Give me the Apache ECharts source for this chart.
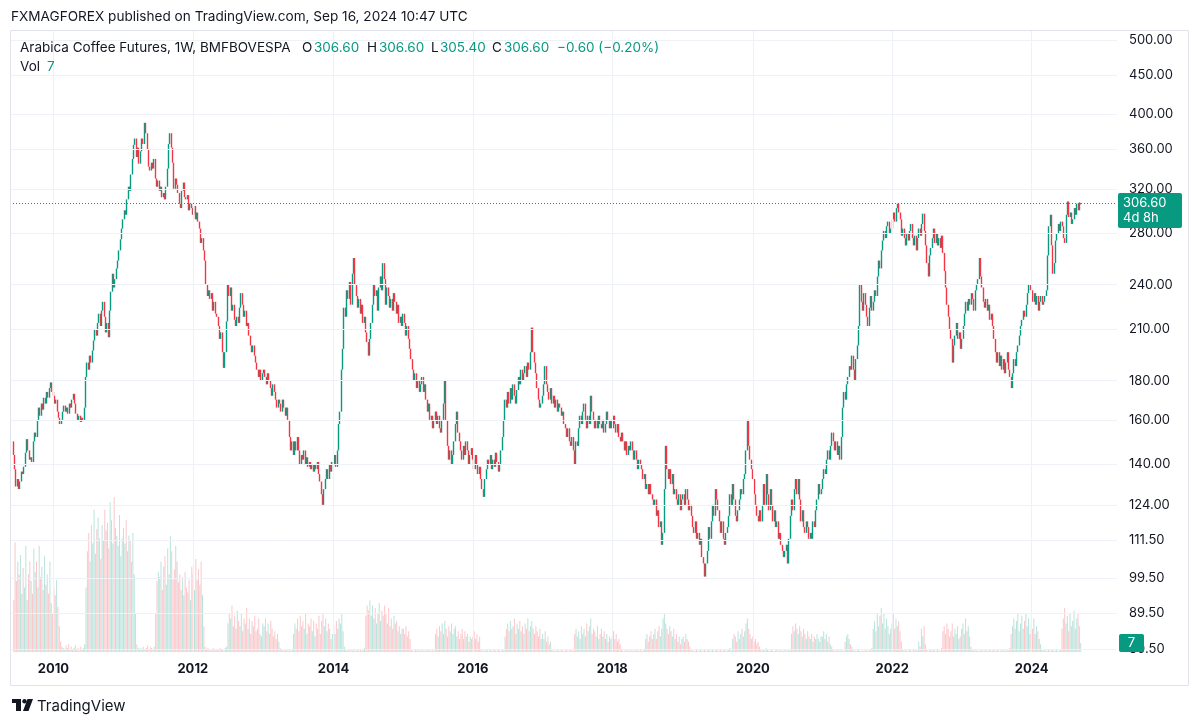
<!DOCTYPE html>
<html>
<head>
<meta charset="utf-8">
<script src="https://cdn.jsdelivr.net/npm/echarts@6/dist/echarts.min.js"></script>
<style>
html,body{margin:0;padding:0;background:#ffffff;}
#chart{width:1200px;height:725px;}
</style>
</head>
<body>
<div id="chart"></div>
<script>
// ---------- DATA (weekly closes and volumes) ----------
const close2009 = [144,138,131,134, 130,133,137,136, 139,145,151,146,142, 143,141,150,154, 152,160,166,162, 168,165,171,168,174, 171,176,179,174];
const close2010 = [172,168,170,164, 161,158,160,164, 167,164,166,163,168, 166,170,173,168, 163,160,162,159,161, 160,166,182,190, 186,194,190,197, 203,210,206,214,220, 212,222,228,218, 208,214,205,222, 235,248,238,244,252, 258,266,275,284];
const close2011 = [292,300,296,310,322, 318,334,350,365, 372,352,362,345, 358,372,366,390, 378,360,342,338,346, 340,350,330,322, 328,318,322,312, 316,310,322,340,366, 378,362,346,320, 330,324,316,306,302, 318,326,312,310, 314,300,306,302];
const close2012 = [296,304,292,298,290, 284,272,276,266, 258,240,232,236, 230,234,222,228,220, 218,212,204,208, 196,187,196,215, 240,232,238,222,226, 216,212,218,214, 224,234,226,218, 222,212,214,206,200, 196,200,194,190, 186,182,186,180,184];
const close2013 = [186,182,178,184, 180,176,172,178, 174,170,166,170, 168,164,170,166,162, 166,160,152,146, 150,144,150,146, 152,146,140,144,142, 146,140,143,139, 141,138,140,137,140, 138,141,136,133, 128,124,130,134, 138,134,140,137,141];
const close2014 = [140,144,139,146, 158,164,186,198, 224,218,236,230,242, 226,248,260,240, 232,224,230,220, 226,214,218,208,202, 194,204,214,226, 240,232,236,222, 238,246,236,256,244, 226,238,232,224, 230,222,234,228, 220,226,214,218,212];
const close2015 = [220,214,206,212, 204,198,192,186, 180,184,176,180,174, 178,182,174,178, 170,164,168,160, 162,156,160,164,158, 162,156,154,160, 168,180,160,148,142, 146,140,144,150, 158,164,154,150, 146,142,148,144,150, 146,140,144,147];
const close2016 = [142,138,144,140, 136,139,134,130,127, 134,138,142,140, 144,138,142,139, 145,141,137,140,146, 152,160,170,166, 174,168,176,170, 178,172,168,175,182, 178,186,180,184, 188,182,190,186,196, 211,196,190,184, 176,170,166,168];
const close2017 = [172,178,188,178,174, 170,176,168,172, 166,170,164,168, 166,162,164,158, 156,152,156,150,148, 152,146,140,150, 148,156,162,158,164, 168,160,156,162, 158,172,164,160, 156,160,156,162,158, 156,160,154,158, 164,160,156,160];
const close2018 = [156,162,158,154,158, 152,150,154,150, 146,150,144,148, 146,150,146,142,146, 142,138,142,140, 138,134,136,130, 132,128,132,128,126, 124,126,120,122, 116,118,110,114, 130,148,138,134,138, 132,136,128,130, 126,124,128,122,126];
const close2019 = [128,124,130,126, 122,124,120,116, 114,118,112,114, 110,112,106,104,100, 104,108,116,112, 118,124,120,130, 126,122,118,114,118, 112,110,114,116, 120,128,124,132,126, 120,118,122,126, 130,128,134,136, 146,160,148,142,138];
const close2020 = [134,128,124,120, 118,122,118,124, 132,124,136,128,122, 130,124,118,122, 116,118,112,114, 110,108,106,108,110, 104,112,120,126, 122,130,134,128,134, 126,118,122,116, 114,118,116,112, 114,112,118,116,122, 126,132,128,130];
const close2021 = [134,138,136,142, 146,142,148,154, 150,146,150,144,148, 142,152,166,174, 170,178,182,188,186, 194,186,180,192, 200,212,240,228, 222,234,226,218,212, 224,232,222,228, 236,232,246,258, 252,266,274,282,276, 286,290,280,284];
const close2022 = [292,298,290,302,306, 298,292,278,284, 276,270,280,274, 282,288,276,270, 278,266,276,284,278, 288,297,282,270, 256,246,262,268, 276,284,272,280,270, 276,268,278,264, 250,238,226,218,210, 204,190,200,206, 214,204,208,198];
const close2023 = [204,212,220,228,222, 230,226,234,230, 222,236,240,244, 260,246,238,228, 224,230,222,226,216, 220,212,204,196, 190,196,188,194,186, 192,184,190,196, 186,182,176,184, 192,188,196,200,206, 212,216,222,218, 226,234,240,236];
const close2024 = [236,228,234,226,232, 222,228,232,226, 228,232,236,262, 286,296,270,248,256, 274,280,288,282, 290,286,276,272, 296,308,294,298,288, 292,302,296,306, 300,307.2,306.6];

const vol2009 = [40,85,55,70, 60,75,45,65, 50,82,40,60,70, 55,45,80,62, 70,50,82,58, 66,48,74,52,60, 45,70,38,30];
const vol2010 = [50,44,56,35, 20,8,4,3, 2,5,3,6,2, 4,2,3,5, 2,3,1,4,2, 3,6,50,78, 92,70,98,84, 110,76,95,104,88, 72,98,86,110, 94,100,80,116, 102,84,120,96,90, 82,106,74,88];
const vol2011 = [96,84,102,78,90, 86,70,92,60, 30,6,3,2, 3,2,4,2, 3,5,2,4,3, 2,4,30,55, 62,58,70,48, 66,74,52,80,60, 90,78,56,64, 82,70,54,60,48, 58,44,62,50, 46,56,40,66];
const vol2012 = [60,48,72,56,64, 52,70,44,20, 4,2,3,2, 1,2,3,1,2, 2,1,3,2, 2,1,3,4, 22,30,26,36,20, 28,18,32,24, 20,30,16,26, 22,34,18,26,14, 24,20,28,16, 18,26,14,12,22];
const vol2013 = [20,26,16,22, 14,24,18,12, 16,10,14,8, 3,2,1,2,1, 2,1,2,1, 2,14,22,18, 26,16,28,20,24, 18,30,14,22, 20,26,16,24,12, 22,18,28,14, 24,30,20,26, 16,22,18,10,14];
const vol2014 = [20,14,24,18, 26,22,30,16, 4,2,1,2,1, 2,1,2,1, 1,2,1,2, 1,2,3,28,36, 32,40,28,36, 26,34,22,30, 38,24,32,28,36, 30,22,34,20, 26,18,28,22, 24,16,20,14,18];
const vol2015 = [18,14,20,12, 16,10,2,1, 1,2,1,2,1, 1,2,1,1, 2,1,2,1, 1,2,1,14,18, 12,20,16,22, 14,24,18,12,20, 16,22,14,18, 20,12,16,10, 14,18,10,16,12, 14,8,12,10];
const vol2016 = [12,16,10,14, 8,12,2,1,1, 1,2,1,1, 2,1,1,2, 1,1,2,1,1, 2,1,12,18, 22,16,24,18, 20,26,14,22,18, 24,16,20,14, 22,18,26,16,20, 24,18,14,20, 16,12,18,10];
const vol2017 = [14,10,16,8,12, 6,8,2,1, 1,1,2,1, 1,2,1,1, 1,2,1,1,2, 1,1,14,18, 12,16,10,20,14, 18,12,22,16, 20,26,14,18, 16,12,20,10,14, 18,12,16,10, 14,8,12,10];
const vol2018 = [12,16,10,14,8, 10,6,2,1, 1,1,2,1, 1,2,1,1,1, 2,1,1,2, 1,1,2,10, 14,8,12,16,10, 14,18,10,16, 20,12,18,26, 30,22,18,14,20, 16,12,18,10, 14,8,12,6,10];
const vol2019 = [12,8,14,10, 8,4,2,1, 1,1,2,1, 1,2,1,1,2, 1,1,2,1, 1,2,1,1, 2,1,1,2,1, 1,2,1,1, 2,3,1,10,14, 12,8,16,10, 14,18,12,16, 22,26,18,14,10];
const vol2020 = [12,8,10,6, 8,4,2,1, 2,1,3,2,1, 1,2,1,1, 1,2,1,1, 2,1,1,2,1, 1,2,1,14, 20,16,22,18,14, 20,16,12,18, 14,10,16,12, 10,14,8,12,10, 14,10,8,12];
const vol2021 = [12,16,10,14, 8,12,6,4, 2,1,1,2,1, 1,2,1,1, 8,12,14,10,6, 4,2,1,1, 1,2,1,1, 1,1,2,1,1, 2,1,3,18, 24,16,30,20, 28,34,22,30,18, 26,20,14,18];
const vol2022 = [22,30,18,26,20, 24,16,8,2, 1,2,1,1, 2,1,1,2, 1,2,1,8,4, 18,12,20,6, 2,1,1,2, 1,2,1,1,2, 1,1,3,16, 20,14,22,18,12, 16,22,12,18, 14,20,10,12];
const vol2023 = [18,22,14,26,16, 20,12,4,2, 1,2,1,1, 1,1,2,1, 1,2,1,1,2, 1,1,2,1, 1,2,1,1,1, 2,1,1,2, 1,3,14,20, 26,18,24,30,16, 22,28,18,24, 30,20,26,14];
const vol2024 = [22,18,26,14,20, 16,10,6,2, 1,2,1,1, 2,1,1,2,1, 1,2,1,1, 2,18,26,34, 22,28,16,30,20, 24,32,18,26, 30,20,7];

const dataYears = [2009,2010,2011,2012,2013,2014,2015,2016,2017,2018,2019,2020,2021,2022,2023,2024];
const closesByYear = [close2009,close2010,close2011,close2012,close2013,close2014,close2015,close2016,close2017,close2018,close2019,close2020,close2021,close2022,close2023,close2024];
const volsByYear = [vol2009,vol2010,vol2011,vol2012,vol2013,vol2014,vol2015,vol2016,vol2017,vol2018,vol2019,vol2020,vol2021,vol2022,vol2023,vol2024];
const firstOpen = 150;
const lastBar = { o: 306.60, h: 306.60, l: 305.40, c: 306.60, vol: 7 };
const prevClose = 307.20;

const priceTicks = [500, 450, 400, 360, 320, 280, 240, 210, 180, 160, 140, 124, 111.5, 99.5, 89.5, 80.5];
const yearTicks = [2010, 2012, 2014, 2016, 2018, 2020, 2022, 2024];

// ---------- BUILD ----------
const FONT = 'Inter, "Noto Sans", Roboto, sans-serif';
const UP = '#089981', DOWN = '#f23645', TXT = '#131722', GRID = '#eef1f5';
const VOL_UP = 'rgba(8,153,129,0.28)', VOL_DOWN = 'rgba(242,54,69,0.28)';
const DAY = 86400000;

function weekStart(y) {
  if (y === 2009) return Date.UTC(2009, 5, 8);
  const dow = new Date(Date.UTC(y, 0, 1)).getUTCDay();
  return Date.UTC(y, 0, 1 + (8 - dow) % 7);
}

const candles = [], volBars = [];
let prev = firstOpen;
dataYears.forEach((y, yi) => {
  const t0 = weekStart(y);
  closesByYear[yi].forEach((c, i) => {
    const t = t0 + i * 7 * DAY;
    const o = prev;
    candles.push([t, o, c, Math.min(o, c), Math.max(o, c)]);
    volBars.push({ value: [t, volsByYear[yi][i]], itemStyle: { color: c >= o ? VOL_UP : VOL_DOWN } });
    prev = c;
  });
});
// last (current) bar from the legend values
const li = candles.length - 1;
candles[li] = [candles[li][0], lastBar.o, lastBar.c, lastBar.l, lastBar.h];
volBars[li] = { value: [candles[li][0], lastBar.vol], itemStyle: { color: VOL_UP } };

const xMin = Date.UTC(2009, 4, 22), xMax = Date.UTC(2025, 2, 22);

const gridMarks = priceTicks.map(v => ({
  yAxis: v,
  label: { show: true, position: 'end', formatter: v.toFixed(2), distance: 12, color: TXT, fontSize: 13, fontFamily: FONT }
})).concat(yearTicks.map(y => ({
  xAxis: weekStart(y),
  label: { show: true, position: 'start', formatter: String(y), distance: 11, color: TXT, fontSize: 13, fontWeight: 'bold', fontFamily: FONT }
})));

const chart = echarts.init(document.getElementById('chart'), null, { renderer: 'canvas' });
chart.setOption({
  animation: false,
  backgroundColor: '#ffffff',
  grid: [
    { left: 10, right: 83, top: 30, bottom: 73 },
    { left: 10, right: 83, top: 484, bottom: 73 }
  ],
  xAxis: [
    { type: 'time', gridIndex: 0, min: xMin, max: xMax, show: false },
    { type: 'time', gridIndex: 1, min: xMin, max: xMax, show: false }
  ],
  yAxis: [
    { type: 'log', logBase: 10, gridIndex: 0, min: 79.75, max: 515.2, show: false },
    { type: 'value', gridIndex: 1, min: 0, max: 130, show: false }
  ],
  series: [
    {
      name: 'grid', type: 'line', xAxisIndex: 0, yAxisIndex: 0, data: [], z: 0, silent: true,
      markLine: {
        silent: true, symbol: ['none', 'none'], animation: false,
        lineStyle: { color: GRID, width: 1, type: 'solid' },
        emphasis: { disabled: true },
        data: gridMarks
      }
    },
    {
      name: 'Volume', type: 'bar', xAxisIndex: 1, yAxisIndex: 1, data: volBars,
      barWidth: 1, z: 1, silent: true, large: false
    },
    {
      name: 'Arabica Coffee Futures', type: 'candlestick', xAxisIndex: 0, yAxisIndex: 0,
      data: candles, encode: { x: 0, y: [1, 2, 3, 4] }, large: false,
      barWidth: 1.2, z: 3,
      itemStyle: { color: UP, color0: DOWN, borderColor: UP, borderColor0: DOWN, borderWidth: 1.4 },
      markLine: {
        silent: true, symbol: ['none', 'none'], animation: false,
        lineStyle: { color: UP, width: 1, type: [1, 2] },
        label: { show: false },
        data: [{ yAxis: lastBar.c }]
      }
    }
  ]
});

// ---------- overlays (text, boxes) ----------
const yLast = chart.convertToPixel({ yAxisIndex: 0 }, lastBar.c);
const yVol = chart.convertToPixel({ yAxisIndex: 1 }, lastBar.vol);
const chg = lastBar.c - prevClose;
const sgn = chg < 0 ? '\u2212' : '+';
const chgTxt = sgn + Math.abs(chg).toFixed(2) + ' (' + sgn + Math.abs(chg / prevClose * 100).toFixed(2) + '%)';

function txt(x, y, s, opt) {
  return { type: 'text', x: x, y: y, silent: true, z: 100,
    style: Object.assign({ text: s, fill: TXT, font: '13px ' + FONT, textVerticalAlign: 'middle', textAlign: 'left' }, opt || {}) };
}
const F2 = '13.5px ' + FONT;

chart.setOption({
  graphic: [
    { type: 'rect', silent: true, z: 90, shape: { x: 10.5, y: 30.5, width: 1178, height: 655 }, style: { fill: 'none', stroke: '#e0e3eb', lineWidth: 1 } },
    txt(11, 17, 'FXMAGFOREX published on TradingView.com, Sep 16, 2024 10:47 UTC', { font: '13.6px ' + FONT }),
    txt(20, 48, 'Arabica Coffee Futures, 1W, BMFBOVESPA', { font: F2 }),
    txt(302, 48, 'O', { font: F2 }),
    txt(314, 48, lastBar.o.toFixed(2), { font: F2, fill: UP }),
    txt(367, 48, 'H', { font: F2 }),
    txt(379, 48, lastBar.h.toFixed(2), { font: F2, fill: UP }),
    txt(431, 48, 'L', { font: F2 }),
    txt(440, 48, lastBar.l.toFixed(2), { font: F2, fill: UP }),
    txt(492, 48, 'C', { font: F2 }),
    txt(504, 48, lastBar.c.toFixed(2), { font: F2, fill: UP }),
    txt(557, 48, chgTxt, { font: F2, fill: UP }),
    txt(20, 67, 'Vol', { font: F2 }),
    txt(47, 67, String(lastBar.vol), { font: F2, fill: UP }),
    // last price box
    { type: 'rect', silent: true, z: 95, shape: { x: 1118, y: yLast - 10, width: 64, height: 35, r: 2 }, style: { fill: UP } },
    txt(1123, yLast, lastBar.c.toFixed(2), { fill: '#ffffff', font: '13px ' + FONT }),
    txt(1123, yLast + 15, '4d 8h', { fill: '#ffffff', font: '13px ' + FONT }),
    // volume box
    { type: 'rect', silent: true, z: 95, shape: { x: 1119, y: yVol - 9, width: 25, height: 18, r: 2 }, style: { fill: UP } },
    txt(1131.5, yVol, String(lastBar.vol), { fill: '#ffffff', font: '13px ' + FONT, textAlign: 'center' }),
    // TradingView logo
    { type: 'rect', silent: true, z: 95, shape: { x: 12, y: 699, width: 9, height: 4 }, style: { fill: TXT } },
    { type: 'rect', silent: true, z: 95, shape: { x: 16, y: 699, width: 5, height: 12 }, style: { fill: TXT } },
    { type: 'circle', silent: true, z: 95, shape: { cx: 24.5, cy: 701.2, r: 2.2 }, style: { fill: TXT } },
    { type: 'polygon', silent: true, z: 95, shape: { points: [[27.5, 699], [33, 699], [28.5, 711], [23, 711]] }, style: { fill: TXT } },
    txt(37, 706, 'TradingView', { font: '15px ' + FONT })
  ]
});
</script>
</body>
</html>
